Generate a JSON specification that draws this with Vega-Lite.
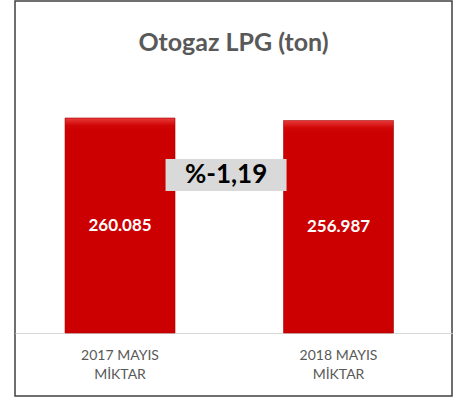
{
  "$schema": "https://vega.github.io/schema/vega-lite/v6.json",
  "width": 437,
  "height": 395,
  "autosize": {"type": "none"},
  "padding": {"left": 15, "top": 1, "right": 18, "bottom": 4},
  "title": {
    "text": "Otogaz LPG (ton)",
    "font": "Lato",
    "fontSize": 25,
    "fontWeight": "bold",
    "color": "#595959",
    "anchor": "middle",
    "baseline": "bottom",
    "offset": -54,
    "dy": 26
  },
  "config": {
    "font": "Lato",
    "view": {"stroke": "#404040", "strokeWidth": 1.5},
    "locale": {"number": {"decimal": ",", "thousands": ".", "grouping": [3], "currency": ["", " TL"]}}
  },
  "data": {
    "values": [
      {"donem": "2017 MAYIS\nMİKTAR", "miktar": 260085},
      {"donem": "2018 MAYIS\nMİKTAR", "miktar": 256987}
    ]
  },
  "encoding": {
    "x": {
      "field": "donem",
      "type": "nominal",
      "sort": null,
      "scale": {"paddingInner": 0.4966, "paddingOuter": 0.2483, "align": 0.461},
      "axis": {
        "title": null,
        "offset": -63,
        "domainColor": "#d9d9d9",
        "domainWidth": 1,
        "ticks": false,
        "labelAngle": 0,
        "labelFont": "Lato",
        "labelFontSize": 14,
        "labelColor": "#595959",
        "labelPadding": 15,
        "labelLineHeight": 19,
        "labelExpr": "split(datum.label, '\\n')"
      }
    }
  },
  "layer": [
    {
      "mark": {
        "type": "bar",
        "color": {
          "gradient": "linear",
          "x1": 0, "y1": 0, "x2": 0, "y2": 1,
          "stops": [
            {"offset": 0, "color": "#e83a3a"},
            {"offset": 0.035, "color": "#d00606"},
            {"offset": 0.06, "color": "#cc0000"},
            {"offset": 1, "color": "#cc0000"}
          ]
        },
        "stroke": "#a80000",
        "strokeWidth": 0.6
      },
      "encoding": {
        "y": {
          "field": "miktar",
          "type": "quantitative",
          "scale": {"domain": [-76211, 401620], "nice": false, "zero": false},
          "axis": null
        },
        "y2": {"datum": 0}
      }
    },
    {
      "transform": [{"calculate": "datum.miktar / 2", "as": "orta"}],
      "mark": {"type": "text", "color": "white", "fontWeight": "bold", "fontSize": 17, "font": "Lato", "baseline": "middle"},
      "encoding": {
        "y": {"field": "orta", "type": "quantitative"},
        "text": {"field": "miktar", "type": "quantitative", "format": ",d"}
      }
    },
    {
      "data": {"values": [{"donem": "2017 MAYIS\nMİKTAR", "degisim": "%-1,19"}]},
      "mark": {
        "type": "point",
        "shape": "M-1,-0.264L1,-0.264L1,0.264L-1,0.264Z",
        "filled": true,
        "color": "#d9d9d9",
        "opacity": 1,
        "size": 14641
      },
      "encoding": {
        "x": {"field": "donem", "type": "nominal", "bandPosition": 1.464},
        "y": {"datum": 191130, "type": "quantitative"}
      }
    },
    {
      "data": {"values": [{"donem": "2017 MAYIS\nMİKTAR", "degisim": "%-1,19"}]},
      "mark": {"type": "text", "color": "black", "fontWeight": "bold", "fontSize": 26, "font": "Lato", "baseline": "middle"},
      "encoding": {
        "x": {"field": "donem", "type": "nominal", "bandPosition": 1.464},
        "y": {"datum": 191130, "type": "quantitative"},
        "text": {"field": "degisim"}
      }
    }
  ]
}
